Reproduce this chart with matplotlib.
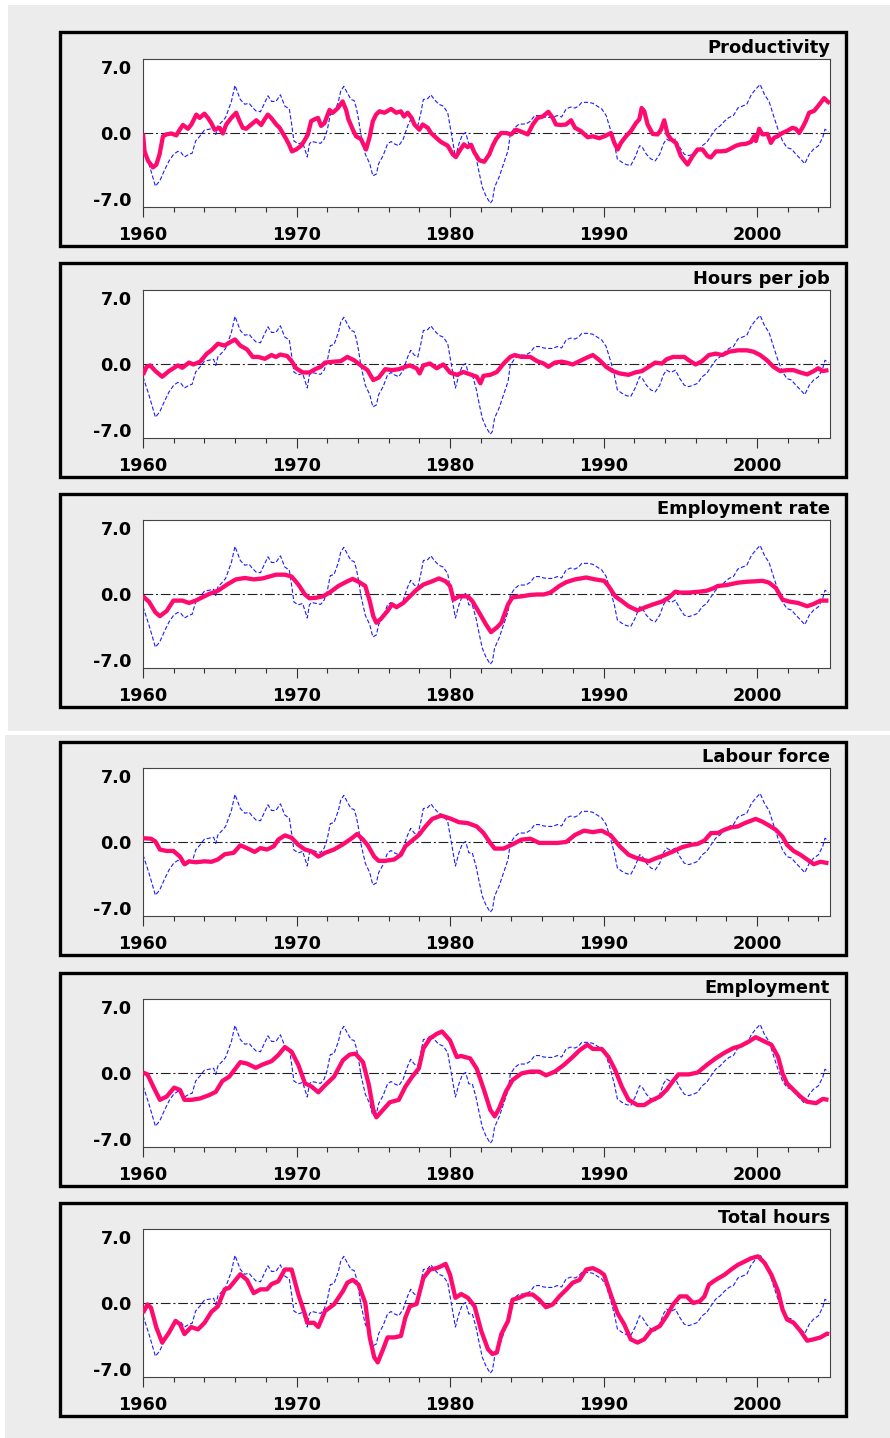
import matplotlib
matplotlib.use('Agg')
import matplotlib.pyplot as plt
from matplotlib.patches import Rectangle
from matplotlib.ticker import MultipleLocator, FixedLocator, FixedFormatter

plt.rcParams['lines.scale_dashes'] = False

# ---------------- data ----------------
titles = ["Productivity", "Hours per job", "Employment rate",
          "Labour force", "Employment", "Total hours"]

ref_years = [1960.0,1960.38,1960.81,1961.1,1961.4,1961.7,1962.0,1962.27,1962.47,1962.7,
             1963.0,1963.2,1963.43,1963.72,1964.0,1964.3,1964.6,1964.74,1964.88,1965.17,
             1965.38,1965.6,1965.76,1965.99,1966.34,1966.63,1966.92,1967.06,1967.35,1967.65,
             1967.94,1968.14,1968.37,1968.66,1968.95,1969.24,1969.53,1969.68,1969.83,1970.12,
             1970.4,1970.7,1970.84,1970.99,1971.28,1971.57,1971.8,1972.0,1972.2,1972.44,
             1972.73,1972.88,1973.08,1973.31,1973.55,1973.75,1973.9,1974.04,1974.19,1974.48,
             1974.77,1974.97,1975.2,1975.35,1975.64,1975.93,1976.16,1976.37,1976.66,1976.95,
             1977.24,1977.44,1977.67,1977.9,1978.1,1978.26,1978.55,1978.75,1978.98,1979.27,
             1979.56,1979.85,1980.15,1980.35,1980.58,1980.81,1981.02,1981.22,1981.45,1981.69,
             1981.89,1982.1,1982.33,1982.62,1982.76,1982.9,1983.2,1983.49,1983.78,1983.92,
             1984.2,1984.5,1984.94,1985.23,1985.52,1985.81,1986.1,1986.4,1986.69,1986.98,
             1987.27,1987.56,1987.85,1988.14,1988.37,1988.58,1989.01,1989.3,1989.59,1989.88,
             1990.17,1990.47,1990.7,1990.9,1991.19,1991.48,1991.77,1992.06,1992.35,1992.5,
             1992.79,1993.08,1993.37,1993.66,1993.9,1994.1,1994.39,1994.68,1994.97,1995.26,
             1995.55,1995.84,1996.13,1996.42,1996.72,1997.0,1997.3,1997.59,1997.88,1998.17,
             1998.46,1998.75,1999.04,1999.33,1999.62,1999.91,2000.2,2000.49,2000.78,2001.07,
             2001.36,2001.66,2001.95,2002.24,2002.53,2002.83,2003.11,2003.4,2003.69,2004.0,
             2004.28,2004.42,2004.65]
ref_vals = [-1.3,-3.2,-5.6,-5.0,-3.9,-2.9,-2.2,-1.9,-2.0,-2.5,
            -2.2,-2.1,-0.8,-0.25,0.35,0.45,0.55,-0.1,0.8,1.3,
            1.7,2.7,3.4,5.1,3.6,3.1,3.2,2.9,2.4,2.3,
            3.3,4.0,3.4,3.4,4.1,2.9,2.6,1.0,-0.8,-1.1,
            -0.95,-2.5,-1.1,-0.85,-0.95,-1.05,-0.6,0.35,2.0,2.1,
            3.4,4.5,5.0,4.3,3.6,3.5,2.7,1.5,-0.1,-2.2,
            -3.2,-4.5,-4.3,-3.2,-2.35,-1.1,-0.85,-1.1,-1.3,-0.6,
            0.8,1.5,1.0,0.8,2.2,3.6,3.7,4.1,3.6,3.1,
            2.9,2.2,-0.6,-2.5,-1.1,-0.1,0.1,-1.1,-1.1,-2.5,
            -4.1,-5.7,-6.6,-7.4,-7.1,-5.7,-4.6,-3.2,-1.8,-0.1,
            0.6,1.0,1.0,1.3,1.9,1.9,1.75,1.7,1.7,1.9,
            1.75,2.6,2.8,2.7,2.9,3.3,3.3,3.2,2.9,2.6,
            1.9,0.3,-1.1,-2.7,-3.05,-3.3,-3.4,-2.5,-1.3,-1.4,
            -2.2,-2.7,-2.9,-2.2,-1.1,-0.6,-0.85,-0.6,-1.5,-2.2,
            -2.35,-2.2,-2.0,-1.3,-0.95,-0.25,0.45,0.8,1.3,1.7,
            1.9,2.7,2.9,3.1,4.1,4.7,5.2,4.1,3.4,1.9,
            0.45,-0.8,-1.5,-1.65,-2.2,-2.7,-3.2,-2.2,-1.65,-1.3,
            -0.4,0.45,0.2]

prod_years = [1960.0,1960.1,1960.33,1960.65,1960.87,1961.08,1961.3,1961.52,1961.84,1962.17,
              1962.39,1962.6,1962.93,1963.15,1963.47,1963.69,1964.0,1964.23,1964.45,1964.66,
              1964.99,1965.2,1965.42,1965.75,1966.07,1966.29,1966.5,1966.72,1967.05,1967.38,
              1967.7,1967.92,1968.13,1968.35,1968.68,1968.9,1969.1,1969.33,1969.55,1969.7,
              1969.98,1970.3,1970.5,1970.74,1970.95,1971.17,1971.4,1971.6,1971.82,1972.15,
              1972.36,1972.7,1973.0,1973.23,1973.38,1973.67,1973.88,1974.2,1974.4,1974.53,
              1974.75,1974.97,1975.18,1975.4,1975.73,1976.16,1976.49,1976.8,1977.0,1977.24,
              1977.5,1977.68,1978.0,1978.22,1978.55,1978.76,1979.09,1979.41,1979.85,1980.17,
              1980.38,1980.6,1980.9,1981.15,1981.37,1981.58,1981.91,1982.23,1982.56,1982.78,
              1983.0,1983.32,1983.65,1983.98,1984.3,1984.63,1985.06,1985.39,1985.71,1986.04,
              1986.4,1986.69,1986.9,1987.23,1987.55,1987.88,1988.14,1988.53,1988.96,1989.29,
              1989.72,1990.05,1990.48,1990.7,1990.92,1991.13,1991.46,1991.78,1992.11,1992.33,
              1992.48,1992.65,1992.87,1993.2,1993.52,1993.74,1993.95,1994.17,1994.39,1994.71,
              1995.04,1995.47,1995.8,1996.12,1996.45,1996.77,1996.99,1997.32,1997.64,1997.97,
              1998.29,1998.62,1998.94,1999.27,1999.6,1999.81,1999.92,2000.14,2000.35,2000.68,
              2000.9,2001.11,2001.33,2001.65,2001.98,2002.3,2002.52,2002.74,2002.95,2003.17,
              2003.39,2003.72,2004.04,2004.37,2004.58,2004.75]
prod_vals = [0.0,-1.9,-2.9,-3.6,-3.3,-2.2,-0.3,-0.1,0.0,-0.2,
             0.4,0.9,0.5,0.95,2.0,1.65,2.1,1.65,1.1,0.4,
             0.6,0.0,0.95,1.65,2.2,1.3,0.6,0.5,0.95,1.4,
             0.9,1.5,2.0,1.65,0.95,0.6,0.05,-0.6,-1.3,-1.9,
             -1.7,-1.3,-0.8,-0.1,1.3,1.5,1.65,0.8,1.1,2.5,
             2.2,2.7,3.4,2.5,1.5,0.4,-0.3,-0.6,-1.3,-1.7,
             -0.45,1.3,2.0,2.35,2.2,2.6,2.2,2.35,1.8,2.2,
             1.65,0.95,0.4,0.95,0.6,0.05,-0.45,-0.9,-1.3,-2.2,
             -2.5,-1.9,-1.15,-1.45,-1.2,-2.0,-2.85,-3.0,-2.2,-1.3,
             -0.6,0.05,0.05,-0.1,0.4,0.2,-0.1,0.95,1.65,1.8,
             2.3,1.65,0.95,0.9,0.95,1.4,0.6,0.25,-0.4,-0.3,
             -0.5,-0.3,0.05,-1.0,-1.7,-1.0,-0.3,0.25,1.1,1.5,
             2.7,2.35,0.95,-0.05,-0.1,0.4,1.4,-0.1,-0.6,-1.0,
             -2.4,-3.3,-2.4,-1.7,-1.7,-2.4,-2.55,-1.9,-1.9,-1.85,
             -1.6,-1.3,-1.15,-1.1,-0.9,-0.3,-0.8,0.5,-0.1,-0.05,
             -1.0,-0.45,-0.3,0.05,0.3,0.6,0.5,0.05,0.6,1.3,
             2.2,2.4,3.05,3.75,3.4,3.2]

hours_years = [1960.0,1960.23,1960.47,1960.81,1961.25,1961.69,1962.27,1962.56,1963.0,1963.28,
               1963.72,1964.16,1964.45,1964.88,1965.32,1965.61,1965.99,1966.34,1966.77,1967.15,
               1967.5,1967.94,1968.37,1968.66,1968.95,1969.39,1969.68,1969.97,1970.41,1970.84,
               1971.22,1971.57,1971.86,1972.44,1972.88,1973.31,1973.75,1974.19,1974.62,1975.0,
               1975.35,1975.78,1976.22,1976.66,1977.09,1977.38,1977.82,1978.02,1978.26,1978.69,
               1979.13,1979.56,1979.7,1980.0,1980.44,1980.87,1981.31,1981.74,1981.98,1982.18,
               1982.62,1983.05,1983.49,1983.92,1984.22,1984.65,1985.23,1985.67,1986.1,1986.4,
               1986.83,1987.27,1987.56,1988.0,1988.43,1989.01,1989.3,1989.74,1990.17,1990.6,
               1991.05,1991.63,1992.06,1992.5,1992.94,1993.37,1993.81,1994.1,1994.53,1995.26,
               1995.55,1995.99,1996.42,1996.86,1997.3,1997.73,1998.17,1998.75,1999.33,1999.77,
               2000.2,2000.64,2001.07,2001.51,2001.95,2002.38,2002.82,2003.26,2003.69,2003.98,
               2004.27,2004.65]
hours_vals = [-1.1,-0.25,-0.1,-0.7,-1.3,-0.7,-0.1,-0.35,0.2,0.0,
              0.3,1.15,1.5,2.2,2.0,2.3,2.65,2.0,1.6,0.8,
              0.8,0.6,1.0,0.8,1.05,0.9,0.35,-0.4,-0.85,-0.85,
              -0.5,-0.25,0.2,0.3,0.35,0.8,0.45,-0.1,-0.6,-1.65,
              -1.4,-0.5,-0.6,-0.5,-0.25,-0.1,-0.4,-0.95,-0.1,0.1,
              -0.4,0.0,-0.25,-0.85,-1.1,-0.8,-1.05,-1.3,-2.0,-1.2,
              -1.1,-0.8,0.1,0.8,1.0,0.8,0.8,0.35,0.1,-0.25,
              0.2,0.3,0.2,0.0,0.35,0.8,1.0,0.45,-0.25,-0.7,
              -0.95,-1.1,-0.85,-0.7,-0.25,0.2,0.1,0.55,0.8,0.8,
              0.45,0.0,0.35,1.0,1.15,1.0,1.35,1.5,1.5,1.35,
              1.0,0.45,-0.25,-0.7,-0.6,-0.6,-0.85,-1.05,-0.7,-0.4,
              -0.7,-0.6]

emprate_years = [1960.0,1960.38,1960.81,1961.1,1961.54,1961.98,1962.56,1963.0,1963.43,1963.87,
                 1964.3,1964.88,1965.47,1966.05,1966.63,1967.21,1967.79,1968.23,1968.66,1969.24,
                 1969.68,1970.12,1970.55,1970.84,1971.28,1971.72,1972.15,1972.73,1973.31,1973.66,
                 1974.04,1974.48,1974.77,1975.0,1975.2,1975.49,1975.93,1976.22,1976.51,1976.95,
                 1977.38,1977.82,1978.26,1978.84,1979.27,1979.71,1980.0,1980.23,1980.58,1981.16,
                 1981.45,1981.89,1982.33,1982.67,1983.05,1983.34,1983.78,1984.07,1984.65,1985.23,
                 1985.67,1986.1,1986.54,1987.12,1987.56,1988.14,1988.87,1989.45,1990.03,1990.32,
                 1990.76,1991.19,1991.63,1992.21,1992.65,1993.23,1993.81,1994.24,1994.68,1994.97,
                 1995.55,1996.28,1996.72,1997.15,1997.44,1998.02,1998.75,1999.33,1999.91,2000.35,
                 2000.78,2001.22,2001.66,2002.09,2002.67,2003.26,2003.69,2004.13,2004.65]
emprate_vals = [-0.2,-0.75,-1.9,-2.3,-1.75,-0.65,-0.65,-0.9,-0.65,-0.3,
                0.05,0.4,1.05,1.6,1.75,1.6,1.7,1.9,2.1,2.1,
                1.9,1.05,0.0,-0.4,-0.35,-0.2,0.2,0.9,1.4,1.65,
                1.35,0.9,-0.7,-2.3,-3.0,-2.6,-1.75,-1.05,-1.35,-0.9,
                -0.2,0.5,1.05,1.4,1.7,1.4,0.9,-0.55,-0.2,-0.2,
                -0.7,-1.9,-3.15,-4.0,-3.5,-3.0,-1.05,-0.3,-0.2,-0.05,
                0.0,0.0,0.2,0.9,1.3,1.6,1.8,1.6,1.45,0.9,
                -0.2,-0.7,-1.25,-1.7,-1.4,-1.05,-0.75,-0.35,0.3,0.2,
                0.2,0.3,0.4,0.65,0.9,1.0,1.25,1.35,1.4,1.45,
                1.25,0.7,-0.55,-0.75,-0.9,-1.25,-1.0,-0.65,-0.65]

labour_years = [1960.0,1960.52,1960.81,1961.1,1961.54,1961.98,1962.41,1962.7,1963.0,1963.43,
                1964.01,1964.45,1964.88,1965.32,1965.9,1966.34,1966.77,1967.27,1967.65,1968.08,
                1968.52,1968.81,1969.24,1969.68,1970.12,1970.55,1970.99,1971.42,1971.86,1972.44,
                1973.02,1973.6,1973.95,1974.33,1974.62,1975.06,1975.35,1975.78,1976.37,1976.8,
                1977.09,1977.53,1977.97,1978.4,1978.84,1979.42,1980.0,1980.58,1981.16,1981.74,
                1982.18,1982.62,1982.91,1983.49,1984.07,1984.65,1985.23,1985.81,1986.4,1986.98,
                1987.56,1988.14,1988.72,1989.3,1989.88,1990.47,1991.05,1991.63,1992.06,1992.5,
                1992.94,1993.37,1993.95,1994.53,1995.12,1995.7,1996.13,1996.57,1997.0,1997.44,
                1997.88,1998.31,1998.75,1999.19,1999.91,2000.35,2000.78,2001.22,2001.66,2001.95,
                2002.38,2002.82,2003.26,2003.69,2004.13,2004.65]
labour_vals = [0.45,0.4,0.1,-0.75,-0.9,-0.9,-1.5,-2.3,-2.0,-2.1,
               -2.0,-2.05,-1.8,-1.25,-1.1,-0.3,-0.6,-1.0,-0.6,-0.75,
               -0.4,0.3,0.75,0.5,-0.25,-0.75,-0.95,-1.5,-1.1,-0.75,
               -0.2,0.45,0.9,0.3,-0.25,-1.5,-1.95,-1.95,-1.8,-1.3,
               -0.4,0.2,0.8,1.7,2.5,2.85,2.55,2.15,2.05,1.7,
               1.0,-0.05,-0.65,-0.65,-0.2,0.3,0.4,-0.05,-0.05,-0.05,
               0.05,0.8,1.25,1.1,1.25,0.75,-0.4,-1.3,-1.6,-1.8,
               -2.0,-1.7,-1.35,-0.95,-0.5,-0.25,-0.15,0.2,1.0,1.0,
               1.35,1.6,1.7,2.05,2.5,2.2,1.8,1.35,0.6,-0.25,
               -0.9,-1.3,-1.8,-2.3,-2.05,-2.2]

emp_years = [1960.0,1960.29,1960.67,1961.1,1961.54,1962.03,1962.41,1962.7,1963.14,1963.72,
             1964.3,1964.74,1965.17,1965.61,1965.99,1966.34,1966.77,1967.35,1967.79,1968.37,
             1968.81,1969.24,1969.68,1970.12,1970.55,1970.99,1971.42,1971.86,1972.44,1973.02,
             1973.46,1973.84,1974.33,1974.71,1975.0,1975.2,1975.64,1976.08,1976.66,1977.09,
             1977.53,1977.97,1978.26,1978.69,1979.13,1979.48,1980.0,1980.44,1980.73,1981.31,
             1981.74,1982.18,1982.62,1982.91,1983.2,1983.63,1984.07,1984.65,1985.23,1985.81,
             1986.25,1986.83,1987.41,1987.99,1988.43,1988.95,1989.3,1989.88,1990.32,1990.76,
             1991.19,1991.63,1992.21,1992.65,1993.08,1993.66,1994.1,1994.53,1994.88,1995.55,
             1996.13,1996.72,1997.3,1997.88,1998.46,1998.9,1999.48,1999.91,2000.35,2000.93,
             2001.37,2001.66,2001.95,2002.38,2002.82,2003.26,2003.84,2004.28,2004.65]
emp_vals = [0.1,-0.1,-1.4,-2.8,-2.45,-1.5,-1.75,-2.8,-2.8,-2.65,
            -2.3,-1.95,-0.8,-0.35,0.45,1.2,1.05,0.6,0.95,1.3,
            1.95,2.8,2.3,0.9,-1.05,-1.4,-2.0,-1.25,-0.35,1.4,
            2.0,2.1,1.2,-1.2,-3.85,-4.65,-3.85,-3.05,-2.8,-1.4,
            -0.35,0.55,2.65,3.7,4.2,4.45,3.5,1.75,1.85,1.6,
            0.5,-1.6,-3.85,-4.55,-3.7,-1.95,-0.7,0.0,0.2,0.2,
            -0.2,0.2,0.9,1.75,2.45,3.05,2.6,2.6,1.75,0.35,
            -1.4,-2.8,-3.35,-3.35,-2.9,-2.45,-1.75,-0.8,-0.1,-0.1,
            0.1,0.9,1.6,2.2,2.7,2.9,3.4,3.85,3.5,3.05,
            1.75,0.0,-1.05,-1.75,-2.45,-3.0,-3.15,-2.7,-2.8]

total_years = [1960.0,1960.29,1960.52,1960.87,1961.25,1961.69,1962.12,1962.41,1962.7,1963.14,
               1963.58,1964.01,1964.45,1964.88,1965.32,1965.61,1966.34,1966.77,1967.21,1967.65,
               1968.08,1968.37,1968.81,1969.24,1969.68,1970.12,1970.55,1970.7,1971.13,1971.42,
               1971.86,1972.44,1973.02,1973.31,1973.66,1974.04,1974.48,1974.77,1975.06,1975.29,
               1975.64,1975.93,1976.37,1976.8,1977.09,1977.38,1977.82,1978.26,1978.69,1979.13,
               1979.42,1979.71,1980.0,1980.35,1980.73,1981.16,1981.6,1982.03,1982.47,1982.76,
               1983.05,1983.34,1983.78,1984.07,1984.5,1984.94,1985.38,1985.81,1986.25,1986.69,
               1987.12,1987.56,1987.99,1988.43,1988.87,1989.3,1989.74,1990.03,1990.47,1990.9,
               1991.34,1991.77,1992.21,1992.65,1993.08,1993.66,1994.1,1994.53,1994.97,1995.41,
               1995.84,1996.28,1996.57,1996.86,1997.3,1997.88,1998.31,1998.75,1999.19,1999.62,
               2000.06,2000.49,2000.93,2001.37,2001.66,2001.95,2002.38,2002.82,2003.26,2003.69,
               2004.13,2004.56,2004.7]
total_vals = [-1.0,-0.1,-0.45,-2.55,-4.15,-3.1,-1.85,-2.2,-3.25,-2.5,
              -2.75,-2.05,-0.9,-0.3,1.5,1.65,3.1,2.5,1.1,1.5,
              1.5,2.05,2.35,3.6,3.6,0.95,-1.15,-2.05,-2.05,-2.5,
              -0.8,-0.1,1.3,2.2,2.5,2.0,0.05,-3.6,-5.7,-6.25,
              -4.85,-3.6,-3.6,-3.45,-1.5,-0.3,-0.05,2.7,3.6,3.75,
              3.95,4.2,3.05,0.6,1.0,0.6,-0.3,-2.9,-4.85,-5.35,
              -5.2,-3.25,-1.85,0.4,0.6,0.95,0.95,0.4,-0.4,-0.1,
              0.75,1.45,2.2,2.5,3.6,3.75,3.4,3.05,0.95,-1.0,
              -2.2,-3.8,-4.15,-3.8,-2.9,-2.4,-1.35,-0.1,0.75,0.75,
              0.05,0.25,0.75,2.0,2.5,3.05,3.6,4.1,4.45,4.8,
              5.0,4.3,3.05,1.3,-0.65,-1.7,-2.05,-2.9,-3.95,-3.8,
              -3.6,-3.2,-3.25]

series_years = [prod_years, hours_years, emprate_years, labour_years, emp_years, total_years]
series_vals = [prod_vals, hours_vals, emprate_vals, labour_vals, emp_vals, total_vals]

ytick_vals = [-7.0, 0.0, 7.0]
ytick_labels = ["-7.0", "0.0", "7.0"]

# ---------------- layout ----------------
W, H = 890, 1438
fig = plt.figure(figsize=(W / 100, H / 100), dpi=100)
fig.patch.set_facecolor('white')
GREY = '#ececec'


def frect(x0, y0, x1, y1, **kw):
    """rectangle from pixel coords (top-left origin)"""
    r = Rectangle((x0 / W, 1 - y1 / H), (x1 - x0) / W, (y1 - y0) / H,
                  transform=fig.transFigure, **kw)
    fig.add_artist(r)
    return r


frect(8, 5, 890, 731, facecolor=GREY, edgecolor='none', zorder=0)
frect(5, 735, 890, 1438, facecolor=GREY, edgecolor='none', zorder=0)

ax_tops = [59, 290, 520, 768, 999, 1229]
AX_L, AX_R, AX_H = 143, 830, 148
PINK = '#ff0a6e'
BLUE = '#1c1cff'
font = dict(family='DejaVu Sans', weight='bold')

for i, top in enumerate(ax_tops):
    # outer panel box
    frect(59.5, top - 26.5, 846, top + 186.5, facecolor=GREY, edgecolor='black',
          linewidth=2.4, zorder=1)
    ax = fig.add_axes([AX_L / W, 1 - (top + AX_H) / H, (AX_R - AX_L) / W, AX_H / H])
    ax.set_zorder(2)
    ax.set_facecolor('white')
    ax.axhline(0, color='#222222', lw=0.8, dashes=(7, 2, 1.5, 2), zorder=1)
    ax.plot(ref_years, ref_vals, color=BLUE, lw=0.8, dashes=(3, 1.5), zorder=2)
    ax.plot(series_years[i], series_vals[i], color=PINK, lw=3.1,
            solid_joinstyle='round', solid_capstyle='butt', zorder=3)
    ax.set_xlim(1960, 2004.75)
    ax.set_ylim(-7.8, 7.9)
    ax.xaxis.set_major_locator(MultipleLocator(10))
    ax.xaxis.set_minor_locator(MultipleLocator(2))
    ax.yaxis.set_major_locator(FixedLocator(ytick_vals))
    ax.yaxis.set_major_formatter(FixedFormatter(ytick_labels))
    ax.tick_params(axis='x', which='major', length=7, width=0.8, color='#333333',
                   pad=7, labelsize=12.7)
    ax.tick_params(axis='x', which='minor', length=3.6, width=0.8, color='#333333')
    ax.tick_params(axis='y', length=0, pad=8, labelsize=12.7)
    for lab in ax.get_xticklabels() + ax.get_yticklabels():
        lab.set_fontfamily('DejaVu Sans')
        lab.set_fontweight('bold')
    for sp in ax.spines.values():
        sp.set_color('#444444')
        sp.set_linewidth(0.8)
    ax.text(1.0, 1 + 6 / AX_H, titles[i], transform=ax.transAxes, ha='right',
            va='baseline', fontsize=12.9, **font)

fig.savefig('out.png', dpi=100, facecolor='white')
